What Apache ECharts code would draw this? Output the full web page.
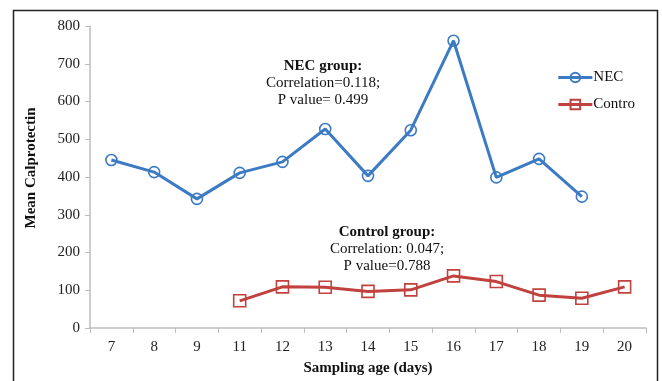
<!DOCTYPE html>
<html><head><meta charset="utf-8">
<script src="https://cdn.jsdelivr.net/npm/echarts@6/dist/echarts.min.js"></script>
<style>html,body{margin:0;padding:0;background:#fff}#c{width:662px;height:381px}</style>
</head><body><div id="c"></div>
<script>
var categories = ['7','8','9','11','12','13','14','15','16','17','18','19','20'];
var necValues = [445, 413, 342, 411, 440, 527, 403, 524, 761, 399, 448, 348, null];
var controlValues = [null, null, null, 72, 109, 108, 97, 101, 138, 123, 87, 79, 109];
var yTicks = {min: 0, max: 800, interval: 100};
var seriesNames = ['NEC', 'Contro'];

var FONT = '"Liberation Serif", "Times New Roman", serif';
var BLUE = '#3C7AC4', RED = '#C0413D';
var chart = echarts.init(document.getElementById('c'));
chart.setOption({
  animation: false,
  backgroundColor: '#fff',
  grid: {left: 90, right: 16, top: 26, bottom: 53},
  legend: {
    right: 22, top: 65, orient: 'vertical', itemGap: 12, itemWidth: 34, itemHeight: 12,
    lineStyle: {width: 3},
    textStyle: {fontFamily: FONT, fontSize: 15, color: '#111', padding: [0,0,0,-4]},
    data: seriesNames
  },
  xAxis: {
    type: 'category', data: categories, boundaryGap: true,
    name: 'Sampling age (days)', nameLocation: 'middle', nameGap: 33,
    nameTextStyle: {fontFamily: FONT, fontSize: 15, fontWeight: 'bold', color: '#111'},
    axisLine: {lineStyle: {color: '#bdbdbd', width: 1.5}},
    axisTick: {show: true, alignWithLabel: false, length: 5, lineStyle: {color: '#bdbdbd'}},
    axisLabel: {fontFamily: FONT, fontSize: 15, color: '#222', margin: 12},
    splitLine: {show: false}
  },
  yAxis: {
    type: 'value', min: yTicks.min, max: yTicks.max, interval: yTicks.interval,
    name: 'Mean Calprotectin', nameLocation: 'middle', nameGap: 51,
    nameTextStyle: {fontFamily: FONT, fontSize: 15, fontWeight: 'bold', color: '#111', padding: [0,0,0,18]},
    axisLine: {show: true, lineStyle: {color: '#bdbdbd', width: 1.5}},
    axisTick: {show: true, length: 5, lineStyle: {color: '#bdbdbd'}},
    axisLabel: {fontFamily: FONT, fontSize: 15, color: '#222', margin: 10},
    splitLine: {show: false}
  },
  series: [
    {
      name: seriesNames[0], type: 'line', data: necValues, connectNulls: false,
      symbol: 'circle', symbolSize: 11, showAllSymbol: true,
      lineStyle: {color: BLUE, width: 3},
      itemStyle: {color: 'rgba(255,255,255,0)', borderColor: BLUE, borderWidth: 1.6}
    },
    {
      name: seriesNames[1], type: 'line', data: controlValues, connectNulls: false,
      symbol: 'rect', symbolSize: 12, showAllSymbol: true,
      lineStyle: {color: RED, width: 3},
      itemStyle: {color: 'rgba(255,255,255,0)', borderColor: RED, borderWidth: 1.6}
    }
  ],
  graphic: [
    {type: 'rect', silent: true, z: -1, shape: {x: 13.5, y: 10.5, width: 644, height: 420},
     style: {fill: 'none', stroke: '#222', lineWidth: 1.5}},
    {type: 'text', position: [323, 59], style: {text: 'NEC group:', font: 'bold 15px ' + FONT, fill: '#111', textAlign: 'center'}},
    {type: 'text', position: [323, 76], style: {text: 'Correlation=0.118;', font: '15px ' + FONT, fill: '#111', textAlign: 'center'}},
    {type: 'text', position: [323, 93], style: {text: 'P value= 0.499', font: '15px ' + FONT, fill: '#111', textAlign: 'center'}},
    {type: 'text', position: [387, 225], style: {text: 'Control group:', font: 'bold 15px ' + FONT, fill: '#111', textAlign: 'center'}},
    {type: 'text', position: [387, 242], style: {text: 'Correlation: 0.047;', font: '15px ' + FONT, fill: '#111', textAlign: 'center'}},
    {type: 'text', position: [387, 259], style: {text: 'P value=0.788', font: '15px ' + FONT, fill: '#111', textAlign: 'center'}}
  ]
});
</script></body></html>
